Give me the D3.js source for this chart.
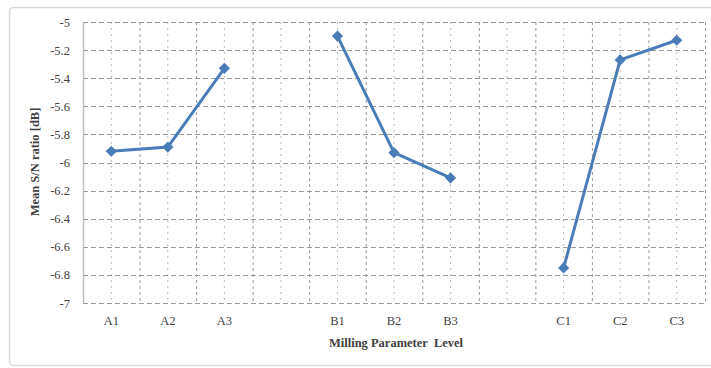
<!DOCTYPE html>
<html>
<head>
<meta charset="utf-8">
<script src="https://cdn.jsdelivr.net/npm/d3@7"></script>
<style>
  body { margin: 0; background: #fff; }
  text { font-family: "Liberation Serif", "Times New Roman", serif; fill: #404040; }
</style>
</head>
<body>
<div id="chart"></div>
<script>
const categories = ["A1", "A2", "A3", "gap1", "B1", "B2", "B3", "gap2", "C1", "C2", "C3"];
const tickLabels = ["A1", "A2", "A3", "", "B1", "B2", "B3", "", "C1", "C2", "C3"];
const groupA = [["A1", -5.92], ["A2", -5.89], ["A3", -5.33]];
const groupB = [["B1", -5.10], ["B2", -5.93], ["B3", -6.11]];
const groupC = [["C1", -6.75], ["C2", -5.27], ["C3", -5.13]];
const yTicks = [-7, -6.8, -6.6, -6.4, -6.2, -6, -5.8, -5.6, -5.4, -5.2, -5];

const width = 711, height = 368;
const plot = { left: 83, right: 705, top: 22, bottom: 303 };

const svg = d3.select("#chart").append("svg")
  .attr("width", width)
  .attr("height", height);

// outer chart border
svg.append("rect")
  .attr("x", 9.5).attr("y", 7.5)
  .attr("width", 708).attr("height", 358)
  .attr("rx", 4)
  .style("fill", "#fff")
  .style("stroke", "#d9d9d9")
  .style("stroke-width", 1.5);

const x = d3.scaleBand().domain(categories).range([plot.left, plot.right]);
const y = d3.scaleLinear().domain([-7, -5]).range([plot.bottom, plot.top]);
const cx = c => x(c) + x.bandwidth() / 2;

// vertical grid: category boundaries and centres
const bounds = categories.map(c => x(c)).concat([plot.right]).slice(1);
svg.append("g").selectAll("line.vb")
  .data(bounds)
  .enter().append("line")
  .attr("x1", d => d + 0.5).attr("x2", d => d + 0.5)
  .attr("y1", plot.top).attr("y2", plot.bottom)
  .style("stroke", "#999")
  .style("stroke-dasharray", "3,3");

svg.append("g").selectAll("line.vc")
  .data(categories)
  .enter().append("line")
  .attr("x1", d => cx(d)).attr("x2", d => cx(d))
  .attr("y1", plot.top).attr("y2", plot.bottom)
  .style("stroke", "#bbb")
  .style("stroke-dasharray", "2,4");

// horizontal grid
svg.append("g").selectAll("line.h")
  .data(yTicks)
  .enter().append("line")
  .attr("x1", plot.left).attr("x2", plot.right)
  .attr("y1", d => Math.round(y(d)) + 0.5).attr("y2", d => Math.round(y(d)) + 0.5)
  .style("stroke", "#999")
  .style("stroke-dasharray", "5,3");

// y axis
const yAxis = svg.append("g")
  .attr("transform", `translate(${plot.left},0)`)
  .call(d3.axisLeft(y).tickValues(yTicks).tickSize(0).tickPadding(13)
    .tickFormat(d => String(+d.toFixed(1))));
yAxis.select(".domain").style("stroke", "#bfbfbf").style("stroke-width", 1.5);
yAxis.selectAll("text")
  .style("font-family", "Liberation Serif, serif")
  .style("font-size", "12.5px")
  .style("fill", "#404040");

// x axis labels
const xAxis = svg.append("g")
  .attr("transform", `translate(0,${plot.bottom})`)
  .call(d3.axisBottom(x).tickSize(0).tickPadding(13).tickFormat((d, i) => tickLabels[i]));
xAxis.select(".domain").remove();
xAxis.selectAll("text")
  .style("font-family", "Liberation Serif, serif")
  .style("font-size", "12.5px")
  .style("fill", "#404040");

// axis titles
svg.append("text")
  .attr("x", 396).attr("y", 347)
  .style("text-anchor", "middle")
  .style("font-size", "12.5px")
  .style("font-weight", "bold")
  .style("white-space", "pre")
  .text("Milling Parameter  Level");

svg.append("text")
  .attr("transform", "translate(39,162) rotate(-90)")
  .style("text-anchor", "middle")
  .style("font-size", "12.5px")
  .style("font-weight", "bold")
  .text("Mean S/N ratio [dB]");

// series
const line = d3.line().x(d => cx(d[0])).y(d => y(d[1]));
const blue = "#4a7db8";
[groupA, groupB, groupC].forEach(g => {
  svg.append("path")
    .datum(g)
    .attr("d", line)
    .style("fill", "none")
    .style("stroke", blue)
    .style("stroke-width", 3);
  svg.append("g").selectAll("path.m")
    .data(g)
    .enter().append("path")
    .attr("d", d3.symbol().type(d3.symbolDiamond2).size(80))
    .attr("transform", d => `translate(${cx(d[0])},${y(d[1])})`)
    .style("fill", blue);
});
</script>
</body>
</html>
